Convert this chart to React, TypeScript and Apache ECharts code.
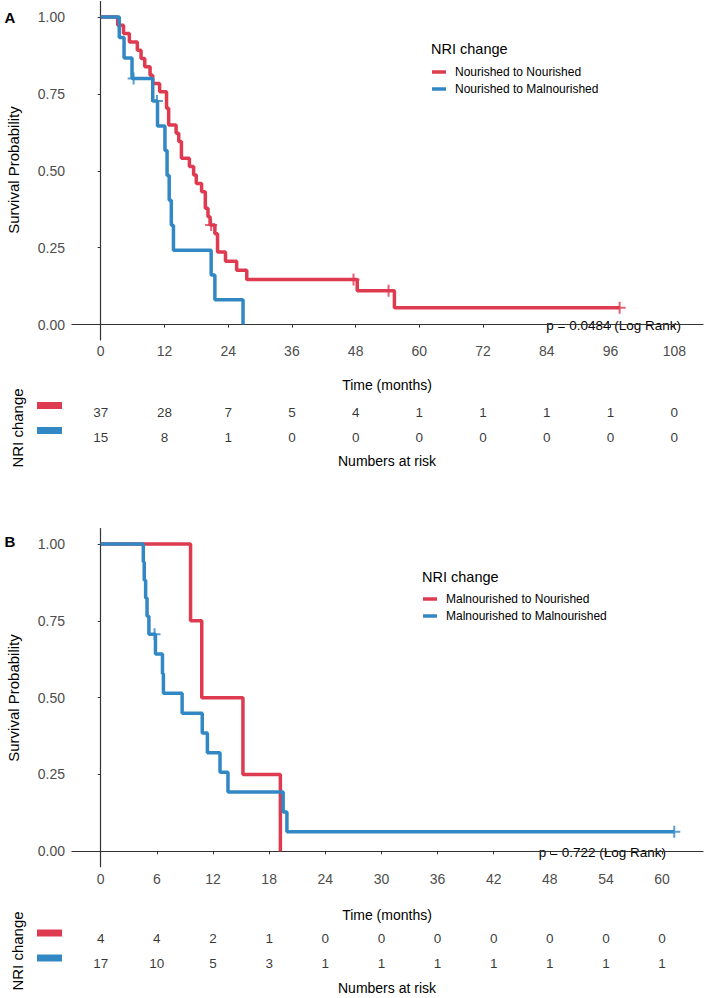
import React, { useEffect, useRef } from 'react';
import * as echarts from 'echarts';

// ---------- Data ----------
const A_NAMES = ['Nourished to Nourished', 'Nourished to Malnourished'];
const B_NAMES = ['Malnourished to Nourished', 'Malnourished to Malnourished'];

// Panel A: event times (months) and survival after each event
const A_RED_T = [0, 3.2, 4.3, 5.4, 6.9, 7.6, 8.3, 9.3, 9.8, 11.1, 12.4, 12.8, 14.2, 14.7, 15.2, 16.7, 17.5, 18.0, 19.0, 19.7, 20.2, 20.6, 21.5, 22.0, 23.5, 25.6, 27.5, 48.3, 55.3];
const A_RED_S = [1, 0.973, 0.946, 0.919, 0.892, 0.865, 0.838, 0.811, 0.784, 0.757, 0.703, 0.649, 0.622, 0.595, 0.541, 0.514, 0.486, 0.459, 0.432, 0.378, 0.351, 0.324, 0.295, 0.236, 0.206, 0.177, 0.147, 0.110, 0.055];
const A_RED_CENSOR = [20.8, 47.6, 54.2, 97.7];

const A_BLUE_T = [0, 3.5, 4.4, 5.9, 9.8, 10.7, 12.1, 12.5, 12.9, 13.3, 13.7, 20.8, 21.5, 26.8];
const A_BLUE_S = [1, 0.933, 0.867, 0.8, 0.727, 0.646, 0.566, 0.485, 0.404, 0.323, 0.242, 0.161, 0.081, 0];
const A_BLUE_CENSOR = [6.2, 10.6];

// Panel B
const B_RED_T = [0, 9.6, 10.8, 15.2, 19.2];
const B_RED_S = [1, 0.75, 0.5, 0.25, 0];
const B_RED_CENSOR: number[] = [];

const B_BLUE_T = [0, 4.55, 4.65, 4.8, 4.95, 5.15, 5.85, 6.6, 6.7, 8.7, 10.85, 11.4, 12.75, 13.6, 19.5, 19.9];
const B_BLUE_S = [1, 0.941, 0.882, 0.824, 0.765, 0.706, 0.642, 0.578, 0.514, 0.449, 0.385, 0.321, 0.257, 0.193, 0.128, 0.064];
const B_BLUE_CENSOR = [5.75, 61.3];

// Tick labels / risk table
const A_BREAKS = [0, 12, 24, 36, 48, 60, 72, 84, 96, 108];
const A_RISK_RED = [37, 28, 7, 5, 4, 1, 1, 1, 1, 0];
const A_RISK_BLUE = [15, 8, 1, 0, 0, 0, 0, 0, 0, 0];

const B_BREAKS = [0, 6, 12, 18, 24, 30, 36, 42, 48, 54, 60];
const B_RISK_RED = [4, 4, 2, 1, 0, 0, 0, 0, 0, 0, 0];
const B_RISK_BLUE = [17, 10, 5, 3, 1, 1, 1, 1, 1, 1, 1];

const Y_TICKS = [0, 0.25, 0.5, 0.75, 1];

// ---------- Styles ----------
const RED = '#DE3A50';
const BLUE = '#3288C4';
const FONT = '"Liberation Sans", Arial, sans-serif';
const AXIS_GRAY = '#4D4D4D';

function kmLine(T: number[], S: number[], C: number[]) {
  const pts = T.map((t, i) => [t, S[i]]);
  const lastC = C.length ? Math.max(...C) : -Infinity;
  if (lastC > T[T.length - 1]) pts.push([lastC, S[S.length - 1]]);
  return pts;
}
function censorPts(T: number[], S: number[], C: number[]) {
  return C.map((c) => {
    let s = S[0];
    for (let i = 0; i < T.length; i++) if (T[i] <= c) s = S[i];
    return [c, s];
  });
}

export default function App() {
  const ref = useRef<HTMLDivElement>(null);
  useEffect(() => {
    const chart = echarts.init(ref.current!, null, { renderer: 'svg' });

    const gridW = 631;
    const grids = [
      { left: 72, top: 1.6, width: gridW, height: 338.4 },
      { left: 72, top: 399.5, width: gridW, height: 50 },
      { left: 72, top: 528.6, width: gridW, height: 338.1 },
      { left: 72, top: 926.5, width: gridW, height: 49 },
    ];

    const mainX = (gi: number, min: number, max: number, breaks: number[], margin: number) => ({
      type: 'value', gridIndex: gi, min, max,
      axisLine: { show: true, lineStyle: { color: '#333', width: 1.2 } },
      axisTick: { show: true, length: 3, customValues: breaks, lineStyle: { color: '#333' } },
      axisLabel: { customValues: breaks, color: AXIS_GRAY, fontSize: 14, fontFamily: FONT, margin },
      splitLine: { show: false },
    });
    const mainY = (gi: number) => ({
      type: 'value', gridIndex: gi, min: -0.05, max: 1.05,
      axisLine: { show: true, lineStyle: { color: '#333', width: 1.2 } },
      axisTick: { show: true, length: 3, customValues: Y_TICKS, lineStyle: { color: '#333' } },
      axisLabel: { customValues: Y_TICKS, color: AXIS_GRAY, fontSize: 14, fontFamily: FONT, margin: 7,
        formatter: (v: number) => v.toFixed(2) },
      splitLine: { show: false },
    });
    const hiddenX = (gi: number, min: number, max: number) => ({ type: 'value', gridIndex: gi, min, max, show: false });
    const hiddenY = (gi: number) => ({ type: 'value', gridIndex: gi, min: 0, max: 1, show: false });

    const lineSeries = (name: string, color: string, data: number[][], xi: number) => ({
      type: 'line', name, xAxisIndex: xi, yAxisIndex: xi, data, step: 'end', showSymbol: false,
      symbol: 'none', lineStyle: { color, width: 3.5 }, itemStyle: { color }, silent: true,
    });
    const censorSeries = (name: string, color: string, data: number[][], xi: number) => ({
      type: 'scatter', name, xAxisIndex: xi, yAxisIndex: xi, data,
      symbol: 'path://M5,0L5,10M0,5L10,5', symbolSize: 12,
      itemStyle: { color: 'rgba(0,0,0,0)', borderColor: color, borderWidth: 2 }, silent: true,
    });
    const riskSeries = (name: string, breaks: number[], vals: number[], row: number, xi: number) => ({
      type: 'scatter', name, xAxisIndex: xi, yAxisIndex: xi,
      data: breaks.map((b, i) => [b, row, vals[i]]),
      symbolSize: 1, itemStyle: { color: 'rgba(0,0,0,0)' }, silent: true,
      label: { show: true, position: 'inside', formatter: (p: any) => String(p.value[2]),
        color: '#000', fontSize: 13.5, fontFamily: FONT },
    });

    const legendBase = {
      orient: 'vertical', padding: 0, itemWidth: 14, itemHeight: 3.5, itemGap: 3, icon: 'rect',
      textStyle: { fontSize: 12, lineHeight: 14, color: '#000', fontFamily: FONT, padding: [0, 0, 0, 4] },
    };

    const txt = (text: string, x: number, y: number, extra: any = {}) => ({
      type: 'text', x, y, rotation: extra.rotation || 0,
      style: { text, fill: '#000', font: extra.font || `14px ${FONT}`, align: extra.align || 'center', verticalAlign: 'middle' },
    });
    const rect = (x: number, yc: number, color: string) => ({
      type: 'rect', shape: { x, y: yc - 3.5, width: 25, height: 7 }, style: { fill: color },
    });

    const option: any = {
      animation: false,
      backgroundColor: '#fff',
      grid: grids,
      xAxis: [
        mainX(0, -5.4, 113.4, A_BREAKS, 4),
        hiddenX(1, -5.4, 113.4),
        mainX(2, -3.07, 64.37, B_BREAKS, 5),
        hiddenX(3, -3.07, 64.37),
      ],
      yAxis: [mainY(0), hiddenY(1), mainY(2), hiddenY(3)],
      legend: [
        { ...legendBase, data: A_NAMES, left: 432, top: 65 },
        { ...legendBase, data: B_NAMES, left: 423, top: 592 },
      ],
      series: [
        lineSeries(A_NAMES[0], RED, kmLine(A_RED_T, A_RED_S, A_RED_CENSOR), 0),
        censorSeries(A_NAMES[0], RED, censorPts(A_RED_T, A_RED_S, A_RED_CENSOR), 0),
        lineSeries(A_NAMES[1], BLUE, kmLine(A_BLUE_T, A_BLUE_S, A_BLUE_CENSOR), 0),
        censorSeries(A_NAMES[1], BLUE, censorPts(A_BLUE_T, A_BLUE_S, A_BLUE_CENSOR), 0),
        riskSeries(A_NAMES[0], A_BREAKS, A_RISK_RED, 0.75, 1),
        riskSeries(A_NAMES[1], A_BREAKS, A_RISK_BLUE, 0.25, 1),
        lineSeries(B_NAMES[0], RED, kmLine(B_RED_T, B_RED_S, B_RED_CENSOR), 2),
        censorSeries(B_NAMES[0], RED, censorPts(B_RED_T, B_RED_S, B_RED_CENSOR), 2),
        lineSeries(B_NAMES[1], BLUE, kmLine(B_BLUE_T, B_BLUE_S, B_BLUE_CENSOR), 2),
        censorSeries(B_NAMES[1], BLUE, censorPts(B_BLUE_T, B_BLUE_S, B_BLUE_CENSOR), 2),
        riskSeries(B_NAMES[0], B_BREAKS, B_RISK_RED, 0.75, 3),
        riskSeries(B_NAMES[1], B_BREAKS, B_RISK_BLUE, 0.25, 3),
      ],
      graphic: [
        txt('A', 10, 17, { font: `bold 15px ${FONT}` }),
        txt('B', 10, 541, { font: `bold 15px ${FONT}` }),
        txt('Survival Probability', 13, 170, { rotation: Math.PI / 2, font: `15px ${FONT}` }),
        txt('Survival Probability', 13, 698, { rotation: Math.PI / 2, font: `15px ${FONT}` }),
        txt('NRI change', 431, 49, { align: 'left', font: `14.5px ${FONT}` }),
        txt('NRI change', 422, 577, { align: 'left', font: `14.5px ${FONT}` }),
        txt('p = 0.0484 (Log Rank)', 681, 325, { align: 'right', font: `13.5px ${FONT}` }),
        txt('p = 0.722 (Log Rank)', 666, 852, { align: 'right', font: `13.5px ${FONT}` }),
        txt('Time (months)', 387, 385, { font: `14px ${FONT}` }),
        txt('Time (months)', 387, 915, { font: `14px ${FONT}` }),
        txt('Numbers at risk', 387, 461, { font: `14px ${FONT}` }),
        txt('Numbers at risk', 387, 988, { font: `14px ${FONT}` }),
        txt('NRI change', 17, 428, { rotation: Math.PI / 2, font: `15px ${FONT}` }),
        txt('NRI change', 17, 951, { rotation: Math.PI / 2, font: `15px ${FONT}` }),
        rect(37, 405.5, RED),
        rect(37, 430.5, BLUE),
        rect(37, 933, RED),
        rect(37, 958, BLUE),
      ],
    };

    chart.setOption(option);
    return () => chart.dispose();
  }, []);
  return <div ref={ref} style={{ position: 'absolute', left: 0, top: 0, width: 709, height: 998 }} />;
}
